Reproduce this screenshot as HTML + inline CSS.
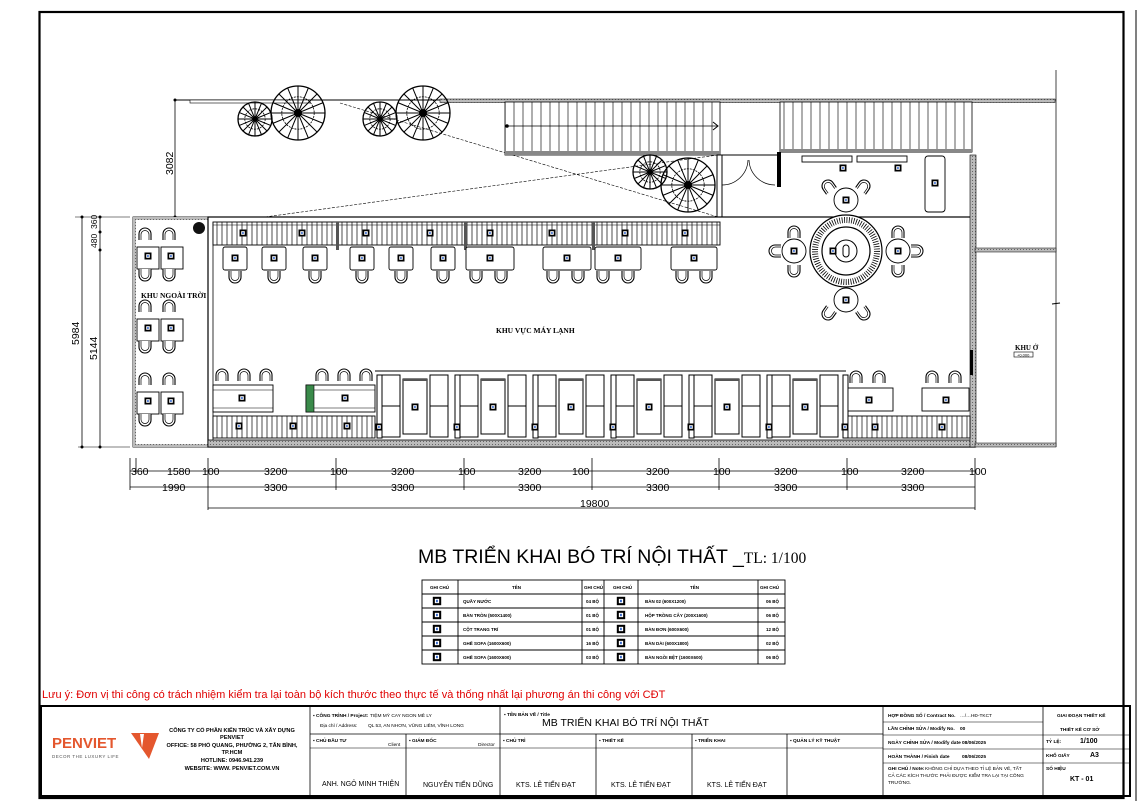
<!DOCTYPE html>
<html><head><meta charset="utf-8">
<style>
html,body{margin:0;padding:0;background:#fff;}
svg{display:block;font-family:"Liberation Sans","Noto Sans CJK SC",sans-serif;}
.s{font-family:"Liberation Serif","Noto Serif CJK SC",serif;}
.t *{vector-effect:non-scaling-stroke;}
</style></head><body>
<svg width="1140" height="801" viewBox="0 0 1140 801" xmlns="http://www.w3.org/2000/svg">
<defs>
 <pattern id="rail" width="5" height="10" patternUnits="userSpaceOnUse"><rect width="5" height="10" fill="#fff"/><line x1="2" y1="0" x2="2" y2="10" stroke="#222" stroke-width="0.8"/></pattern>
 <pattern id="stair" width="9" height="10" patternUnits="userSpaceOnUse"><rect width="9" height="10" fill="#fff"/><line x1="1" y1="0" x2="1" y2="10" stroke="#333" stroke-width="0.8"/></pattern>
 <pattern id="hat" width="3" height="3" patternUnits="userSpaceOnUse"><rect width="3" height="3" fill="#bbb"/><rect width="1" height="1" fill="#666"/></pattern>
 <g id="cu"><path d="M0,12 V6 A6,6 0 0 1 12,6 V12" fill="#fff" stroke="#000" stroke-width="1.1"/><path d="M2,12 V6.5 A4,4 0 0 1 10,6.5 V12" fill="none" stroke="#000" stroke-width="0.7"/></g>
 <g id="cd"><use href="#cu" transform="rotate(180 6 6)"/></g>
 <g id="tg"><rect x="-3.5" y="-3.5" width="7" height="7" fill="#000"/><rect x="-1.8" y="-1.8" width="3.6" height="3.6" fill="#fff"/><rect x="-0.8" y="-1" width="1.5" height="2" fill="#36c"/></g>
 <g id="tree" class="t"><circle r="1" fill="none" stroke="#000" stroke-width="1.3"/>
  <path d="M0,0 L0,-1 M0,0 L0.7,-0.7 M0,0 L1,0 M0,0 L0.7,0.7 M0,0 L0,1 M0,0 L-0.7,0.7 M0,0 L-1,0 M0,0 L-0.7,-0.7 M0,0 L0.38,-0.92 M0,0 L0.92,-0.38 M0,0 L0.92,0.38 M0,0 L0.38,0.92 M0,0 L-0.38,0.92 M0,0 L-0.92,0.38 M0,0 L-0.92,-0.38 M0,0 L-0.38,-0.92" stroke="#000" stroke-width="1" fill="none"/>
  <circle r="0.6" fill="none" stroke="#000" stroke-width="0.8" stroke-dasharray="2 1"/>
  <circle r="0.15" fill="#000"/></g>
 <g id="booth"><rect x="7" y="0" width="18" height="62" fill="#fff" stroke="#000" stroke-width="1"/><line x1="7" y1="31" x2="25" y2="31" stroke="#000"/>
  <rect x="28" y="4" width="24" height="55" fill="#fff" stroke="#000" stroke-width="1"/><rect x="28" y="4" width="24" height="2" fill="#555"/>
  <rect x="55" y="0" width="18" height="62" fill="#fff" stroke="#000" stroke-width="1"/><line x1="55" y1="31" x2="73" y2="31" stroke="#000"/>
  <use href="#tg" x="40" y="32"/></g>
</defs>

<rect width="1140" height="801" fill="#fff"/>
<path d="M1136,10 V801" stroke="#000" stroke-width="1"/>
<rect x="39.5" y="12" width="1084" height="786" fill="none" stroke="#000" stroke-width="2.2"/>

<line x1="175" y1="100" x2="1056" y2="100" stroke="#000" stroke-width="1"/>
<rect x="190" y="100" width="120" height="3" fill="#fff" stroke="#000" stroke-width="0.6"/>
<rect x="440" y="99" width="615" height="3.5" fill="url(#hat)" stroke="#000" stroke-width="0.5"/>
<line x1="1056" y1="70" x2="1056" y2="447" stroke="#444" stroke-width="1"/>
<path d="M1052,304 l8,-1" stroke="#000"/>
<path d="M340,103 L718,217 M265,217 L718,155" stroke="#000" stroke-width="0.6" stroke-dasharray="3 1.5" fill="none"/>
<rect x="505" y="102" width="215" height="53" fill="url(#stair)" stroke="#000" stroke-width="0.8"/>
<line x1="505" y1="126" x2="718" y2="126" stroke="#000" stroke-width="0.8"/>
<circle cx="507" cy="126" r="1.8"/><path d="M713,122 l5,4 -5,4" fill="none" stroke="#000"/>
<rect x="505" y="151" width="215" height="4" fill="#888"/>
<rect x="780" y="102" width="192" height="50" fill="url(#stair)" stroke="#000" stroke-width="0.8"/>
<rect x="780" y="149" width="192" height="4" fill="#888"/>
<rect x="717" y="155" width="5" height="66" fill="#fff" stroke="#000"/>
<path d="M722,185 A26,26 0 0 0 748,160 M775,185 A26,26 0 0 1 749,160" fill="none" stroke="#000" stroke-width="0.7"/>
<line x1="722" y1="155" x2="780" y2="155" stroke="#000"/>
<rect x="777" y="152" width="4" height="35" fill="#000"/>

<use href="#tree" transform="translate(255,119) scale(17)"/>
<use href="#tree" transform="translate(298,113) scale(27)"/>
<use href="#tree" transform="translate(380,119) scale(17)"/>
<use href="#tree" transform="translate(423,113) scale(27)"/>
<use href="#tree" transform="translate(650,172) scale(17)"/>
<use href="#tree" transform="translate(688,185) scale(27)"/>

<line x1="175" y1="100" x2="175" y2="217" stroke="#000" stroke-width="0.8"/>
<circle cx="175" cy="100" r="1.5"/><circle cx="175" cy="217" r="1.5"/>
<text font-size="10.5" transform="translate(173,175) rotate(-90)">3082</text>
<line x1="82" y1="217" x2="82" y2="447" stroke="#000" stroke-width="0.8"/>
<line x1="100" y1="217" x2="100" y2="447" stroke="#000" stroke-width="0.8"/>
<line x1="75" y1="217" x2="130" y2="217" stroke="#000" stroke-width="0.6"/>
<line x1="78" y1="447" x2="130" y2="447" stroke="#000" stroke-width="0.6"/>
<circle cx="82" cy="217" r="1.5"/><circle cx="100" cy="217" r="1.5"/><circle cx="100" cy="232" r="1.5"/><circle cx="100" cy="250" r="1.5"/><circle cx="82" cy="447" r="1.5"/><circle cx="100" cy="447" r="1.5"/>
<text font-size="10.5" transform="translate(79,345) rotate(-90)">5984</text>
<text font-size="10.5" transform="translate(97,360) rotate(-90)">5144</text>
<text font-size="8.5" transform="translate(97,248) rotate(-90)">480</text>
<text font-size="8.5" transform="translate(97,229) rotate(-90)">360</text>

<rect x="133" y="217" width="76" height="230" fill="#fff" stroke="#000" stroke-width="0.8"/>
<rect x="133" y="217" width="76" height="3" fill="url(#hat)"/>
<rect x="133" y="217" width="3" height="230" fill="url(#hat)"/>
<rect x="133" y="444" width="76" height="3" fill="url(#hat)"/>
<circle cx="199" cy="228" r="6" fill="#111"/>
<text x="141" y="298" font-size="7.5" font-weight="bold" class="s">KHU NGOÀI TRỜI</text>
<g id="otp">
 <use href="#cu" x="139" y="228"/><use href="#cu" x="163" y="228"/>
 <rect x="137" y="247" width="22" height="22" fill="#fff" stroke="#000" stroke-width="0.9"/>
 <rect x="161" y="247" width="22" height="22" fill="#fff" stroke="#000" stroke-width="0.9"/>
 <use href="#tg" x="148" y="256"/><use href="#tg" x="171" y="256"/>
 <use href="#cd" x="139" y="269"/><use href="#cd" x="163" y="269"/>
</g>
<use href="#otp" y="72"/><use href="#otp" y="145"/>

<rect x="208" y="217" width="767" height="230" fill="#fff" stroke="#000" stroke-width="1.2"/>
<line x1="213" y1="222" x2="213" y2="440" stroke="#000" stroke-width="0.8"/>
<rect x="208" y="440" width="767" height="7" fill="url(#hat)" stroke="#000" stroke-width="0.8"/>
<rect x="970" y="155" width="6" height="292" fill="url(#hat)" stroke="#000" stroke-width="0.6"/>
<rect x="975" y="248" width="81" height="4" fill="url(#hat)" stroke="#000" stroke-width="0.5"/>
<rect x="975" y="443" width="81" height="4" fill="url(#hat)" stroke="#000" stroke-width="0.5"/>
<text x="1015" y="350" font-size="7" font-weight="bold" class="s">KHU Ở</text>
<rect x="1014" y="352" width="19" height="5" fill="#fff" stroke="#000" stroke-width="0.6"/>
<text x="1017" y="356.5" font-size="4">+0.000</text>

<rect x="213" y="222" width="507" height="23" fill="url(#rail)" stroke="#000" stroke-width="0.9"/>
<line x1="213" y1="225" x2="720" y2="225" stroke="#000" stroke-width="0.6"/>
<g fill="#555"><rect x="336" y="222" width="3" height="28"/><rect x="464" y="222" width="3" height="28"/><rect x="592" y="222" width="3" height="28"/></g>
<use href="#tg" x="243" y="233"/><use href="#tg" x="302" y="233"/><use href="#tg" x="366" y="233"/><use href="#tg" x="430" y="233"/><use href="#tg" x="490" y="233"/><use href="#tg" x="552" y="233"/><use href="#tg" x="625" y="233"/><use href="#tg" x="685" y="233"/>
<g fill="#fff" stroke="#000" stroke-width="0.9">
 <rect x="223" y="247" width="24" height="23" rx="2"/><rect x="262" y="247" width="24" height="23" rx="2"/><rect x="303" y="247" width="24" height="23" rx="2"/>
 <rect x="350" y="247" width="24" height="23" rx="2"/><rect x="389" y="247" width="24" height="23" rx="2"/><rect x="431" y="247" width="24" height="23" rx="2"/>
 <rect x="466" y="247" width="48" height="23" rx="2"/><rect x="543" y="247" width="48" height="23" rx="2"/><rect x="595" y="247" width="46" height="23" rx="2"/><rect x="671" y="247" width="46" height="23" rx="2"/>
</g>
<use href="#tg" x="235" y="258"/><use href="#tg" x="274" y="258"/><use href="#tg" x="315" y="258"/><use href="#tg" x="362" y="258"/><use href="#tg" x="401" y="258"/><use href="#tg" x="443" y="258"/><use href="#tg" x="490" y="258"/><use href="#tg" x="567" y="258"/><use href="#tg" x="618" y="258"/><use href="#tg" x="694" y="258"/>
<use href="#cd" x="229" y="271"/><use href="#cd" x="268" y="271"/><use href="#cd" x="309" y="271"/><use href="#cd" x="356" y="271"/><use href="#cd" x="395" y="271"/><use href="#cd" x="437" y="271"/>
<use href="#cd" x="470" y="271"/><use href="#cd" x="495" y="271"/><use href="#cd" x="547" y="271"/><use href="#cd" x="572" y="271"/><use href="#cd" x="597" y="271"/><use href="#cd" x="622" y="271"/><use href="#cd" x="676" y="271"/><use href="#cd" x="700" y="271"/>

<text x="496" y="333" font-size="7.5" font-weight="bold" class="s">KHU VỰC MÁY LẠNH</text>

<use href="#cu" x="216" y="369"/><use href="#cu" x="238" y="369"/><use href="#cu" x="260" y="369"/>
<use href="#cu" x="316" y="369"/><use href="#cu" x="338" y="369"/><use href="#cu" x="360" y="369"/>
<rect x="213" y="385" width="60" height="27" fill="#fff" stroke="#000" stroke-width="0.9"/><line x1="213" y1="390" x2="273" y2="390" stroke="#000" stroke-width="0.6"/><line x1="213" y1="408" x2="273" y2="408" stroke="#000" stroke-width="0.6"/>
<rect x="306" y="385" width="69" height="27" fill="#fff" stroke="#000" stroke-width="0.9"/><line x1="306" y1="390" x2="375" y2="390" stroke="#000" stroke-width="0.6"/><line x1="306" y1="408" x2="375" y2="408" stroke="#000" stroke-width="0.6"/>
<rect x="306" y="385" width="8" height="27" fill="#3a8a4a" stroke="#000" stroke-width="0.6"/>
<use href="#tg" x="242" y="398"/><use href="#tg" x="345" y="398"/>
<rect x="213" y="416" width="162" height="22" fill="url(#rail)" stroke="#000" stroke-width="0.9"/>
<use href="#tg" x="239" y="426"/><use href="#tg" x="293" y="426"/><use href="#tg" x="347" y="426"/>

<line x1="375" y1="371" x2="846" y2="371" stroke="#000" stroke-width="1"/>
<g transform="translate(375,375)">
 <use href="#booth" x="0"/><use href="#booth" x="78"/><use href="#booth" x="156"/><use href="#booth" x="234"/><use href="#booth" x="312"/><use href="#booth" x="390"/>
</g>
<g fill="#fff" stroke="#000" stroke-width="1">
 <rect x="377" y="375" width="5" height="63"/><rect x="455" y="375" width="5" height="63"/><rect x="533" y="375" width="5" height="63"/><rect x="611" y="375" width="5" height="63"/><rect x="689" y="375" width="5" height="63"/><rect x="767" y="375" width="5" height="63"/><rect x="843" y="375" width="5" height="63"/>
</g>
<use href="#tg" x="379" y="427"/><use href="#tg" x="457" y="427"/><use href="#tg" x="535" y="427"/><use href="#tg" x="613" y="427"/><use href="#tg" x="691" y="427"/><use href="#tg" x="769" y="427"/><use href="#tg" x="845" y="427"/>

<use href="#cu" x="850" y="371"/><use href="#cu" x="873" y="371"/><use href="#cu" x="926" y="371"/><use href="#cu" x="949" y="371"/>
<rect x="848" y="388" width="45" height="23" fill="#fff" stroke="#000" stroke-width="0.9"/>
<rect x="922" y="388" width="47" height="23" fill="#fff" stroke="#000" stroke-width="0.9"/>
<use href="#tg" x="869" y="400"/><use href="#tg" x="946" y="400"/>
<rect x="848" y="416" width="122" height="22" fill="url(#rail)" stroke="#000" stroke-width="0.9"/>
<use href="#tg" x="875" y="427"/><use href="#tg" x="942" y="427"/>

<g fill="#fff" stroke="#000" stroke-width="0.9">
 <rect x="802" y="156" width="50" height="6"/><rect x="857" y="156" width="50" height="6"/>
 <rect x="925" y="156" width="20" height="56" rx="3"/>
</g>
<use href="#tg" x="843" y="168"/><use href="#tg" x="898" y="168"/><use href="#tg" x="935" y="183"/>
<circle cx="846" cy="251" r="36" fill="#fff" stroke="#000" stroke-width="1.2"/>
<circle cx="846" cy="251" r="31" fill="none" stroke="#000" stroke-width="6" stroke-dasharray="0.8 1.6"/>
<circle cx="846" cy="251" r="24" fill="#fff" stroke="#000" stroke-width="1.2"/>
<circle cx="846" cy="251" r="11" fill="#fff" stroke="#000" stroke-width="1"/>
<rect x="843" y="245" width="6" height="12" rx="3" fill="#fff" stroke="#000"/>
<use href="#tg" x="833" y="251"/>
<g fill="#fff" stroke="#000" stroke-width="0.9">
 <circle cx="846" cy="200" r="12"/><circle cx="794" cy="251" r="12"/><circle cx="898" cy="251" r="12"/><circle cx="846" cy="300" r="12"/>
</g>
<use href="#tg" x="846" y="200"/><use href="#tg" x="794" y="251"/><use href="#tg" x="898" y="251"/><use href="#tg" x="846" y="300"/>
<use href="#cu" x="822" y="180" transform="rotate(-35 828 186)"/><use href="#cu" x="858" y="180" transform="rotate(35 864 186)"/>
<use href="#cd" x="822" y="308" transform="rotate(35 828 314)"/><use href="#cd" x="858" y="308" transform="rotate(-35 864 314)"/>
<use href="#cu" x="788" y="226"/><use href="#cd" x="788" y="265"/><use href="#cu" x="892" y="226"/><use href="#cd" x="892" y="265"/>
<use href="#cu" x="769" y="245" transform="rotate(-90 775 251)"/><use href="#cu" x="911" y="245" transform="rotate(90 917 251)"/>
<rect x="970" y="350" width="3" height="25" fill="#000"/>

<g stroke="#000" stroke-width="0.8">
 <line x1="130" y1="471" x2="975" y2="471"/>
 <line x1="130" y1="487" x2="975" y2="487"/>
 <line x1="208" y1="508" x2="975" y2="508"/>
 <line x1="130" y1="458" x2="130" y2="490"/><line x1="136" y1="458" x2="136" y2="474"/>
 <line x1="208" y1="458" x2="208" y2="510"/><line x1="336" y1="458" x2="336" y2="490"/><line x1="464" y1="458" x2="464" y2="490"/>
 <line x1="592" y1="458" x2="592" y2="490"/><line x1="719" y1="458" x2="719" y2="490"/><line x1="847" y1="458" x2="847" y2="490"/><line x1="975" y1="458" x2="975" y2="510"/>
</g>
<g font-size="10.5">
 <text x="131" y="475">360</text><text x="167" y="475">1580</text><text x="202" y="475">100</text>
 <text x="264" y="475">3200</text><text x="330" y="475">100</text><text x="391" y="475">3200</text><text x="458" y="475">100</text>
 <text x="518" y="475">3200</text><text x="572" y="475">100</text><text x="646" y="475">3200</text><text x="713" y="475">100</text>
 <text x="774" y="475">3200</text><text x="841" y="475">100</text><text x="901" y="475">3200</text><text x="969" y="475">100</text>
 <text x="162" y="491">1990</text><text x="264" y="491">3300</text><text x="391" y="491">3300</text><text x="518" y="491">3300</text>
 <text x="646" y="491">3300</text><text x="774" y="491">3300</text><text x="901" y="491">3300</text>
 <text x="580" y="507">19800</text>
</g>

<text x="418" y="563" font-size="19.5">MB TRIỂN KHAI BÓ TRÍ NỘI THẤT _<tspan font-size="15.5" font-family="Liberation Serif, serif">TL: 1/100</tspan></text>

<g stroke="#000" stroke-width="0.9" fill="none">
 <rect x="422" y="580" width="363" height="84"/>
 <line x1="422" y1="594" x2="785" y2="594"/><line x1="422" y1="608" x2="785" y2="608"/><line x1="422" y1="622" x2="785" y2="622"/><line x1="422" y1="636" x2="785" y2="636"/><line x1="422" y1="650" x2="785" y2="650"/>
 <line x1="458" y1="580" x2="458" y2="664"/><line x1="582" y1="580" x2="582" y2="664"/><line x1="604" y1="580" x2="604" y2="664"/><line x1="638" y1="580" x2="638" y2="664"/><line x1="758" y1="580" x2="758" y2="664"/>
</g>
<g font-size="4.5" font-weight="bold">
 <text x="430" y="589">GHI CHÚ</text><text x="512" y="589">TÊN</text><text x="584" y="589">GHI CHÚ</text><text x="613" y="589">GHI CHÚ</text><text x="690" y="589">TÊN</text><text x="760" y="589">GHI CHÚ</text>
 <text x="463" y="603">QUẦY NƯỚC</text><text x="586" y="603">04 BỘ</text><text x="645" y="603">BÀN 02 (600X1200)</text><text x="766" y="603">06 BỘ</text>
 <text x="463" y="617">BÀN TRÒN (500X1400)</text><text x="586" y="617">01 BỘ</text><text x="645" y="617">HỘP TRỒNG CÂY (200X1600)</text><text x="766" y="617">06 BỘ</text>
 <text x="463" y="631">CỘT TRANG TRÍ</text><text x="586" y="631">01 BỘ</text><text x="645" y="631">BÀN ĐƠN (600X600)</text><text x="766" y="631">12 BỘ</text>
 <text x="463" y="645">GHẾ SOFA (1600X600)</text><text x="586" y="645">16 BỘ</text><text x="645" y="645">BÀN DÀI (600X1800)</text><text x="766" y="645">02 BỘ</text>
 <text x="463" y="659">GHẾ SOFA (1600X600)</text><text x="586" y="659">03 BỘ</text><text x="645" y="659">BÀN NGỒI BỆT (1600X600)</text><text x="766" y="659">06 BỘ</text>
</g>
<g>
 <use href="#tg" transform="translate(437,601) scale(1.2)"/><use href="#tg" transform="translate(437,615) scale(1.2)"/><use href="#tg" transform="translate(437,629) scale(1.2)"/><use href="#tg" transform="translate(437,643) scale(1.2)"/><use href="#tg" transform="translate(437,657) scale(1.2)"/>
 <use href="#tg" transform="translate(621,601) scale(1.2)"/><use href="#tg" transform="translate(621,615) scale(1.2)"/><use href="#tg" transform="translate(621,629) scale(1.2)"/><use href="#tg" transform="translate(621,643) scale(1.2)"/><use href="#tg" transform="translate(621,657) scale(1.2)"/>
</g>

<text x="42" y="698" font-size="11" fill="#e00000">Lưu ý: Đơn vị thi công có trách nhiệm kiểm tra lại toàn bộ kích thước theo thực tế và thống nhất lại phương án thi công với CĐT</text>

<g stroke="#000" fill="none">
 <rect x="41" y="706" width="1089" height="90" stroke-width="2"/>
 <line x1="310" y1="706" x2="310" y2="796" stroke-width="0.8"/>
 <line x1="500" y1="706" x2="500" y2="796" stroke-width="0.8"/>
 <line x1="310" y1="734" x2="883" y2="734" stroke-width="0.8"/>
 <line x1="310" y1="748" x2="883" y2="748" stroke-width="0.5"/>
 <line x1="406" y1="734" x2="406" y2="796" stroke-width="0.8"/>
 <line x1="596" y1="734" x2="596" y2="796" stroke-width="0.8"/>
 <line x1="692" y1="734" x2="692" y2="796" stroke-width="0.8"/>
 <line x1="787" y1="734" x2="787" y2="796" stroke-width="0.8"/>
 <line x1="883" y1="706" x2="883" y2="796" stroke-width="0.8"/>
 <line x1="1043" y1="706" x2="1043" y2="796" stroke-width="0.8"/>
 <line x1="883" y1="722" x2="1043" y2="722" stroke-width="0.6"/>
 <line x1="883" y1="735" x2="1130" y2="735" stroke-width="0.6"/>
 <line x1="883" y1="749" x2="1043" y2="749" stroke-width="0.6"/>
 <line x1="883" y1="763" x2="1130" y2="763" stroke-width="0.6"/>
 <line x1="1043" y1="749" x2="1130" y2="749" stroke-width="0.6"/>
</g>
<text x="52" y="748" font-size="15" font-weight="bold" fill="#e4572e">PENVIET</text>
<path d="M131,733 h28 l-10,26 z" fill="#e4572e"/><path d="M140,734 h4 l-2,14 z" fill="#fff"/>
<text x="52" y="758" font-size="4.5" fill="#555" letter-spacing="0.5">DECOR THE LUXURY LIFE</text>
<g font-size="5.6" font-weight="bold" text-anchor="middle">
 <text x="232" y="732">CÔNG TY CỔ PHẦN KIẾN TRÚC VÀ XÂY DỰNG</text>
 <text x="232" y="739">PENVIET</text>
 <text x="232" y="747">OFFICE:  58 PHỔ QUANG, PHƯỜNG 2, TÂN BÌNH,</text>
 <text x="232" y="754">TP.HCM</text>
 <text x="232" y="762">HOTLINE: 0946.941.239</text>
 <text x="232" y="770">WEBSITE: WWW. PENVIET.COM.VN</text>
</g>
<g font-size="4.8" font-weight="bold">
 <text x="313" y="717">▪ CÔNG TRÌNH / Project:</text><text x="370" y="717" font-weight="normal">TIỆM MỲ CAY NGON MÊ LY</text>
 <text x="320" y="727" font-weight="normal">Địa chỉ / Address:</text><text x="368" y="727" font-weight="normal">QL 53, AN NHƠN, VŨNG LIÊM, VĨNH LONG</text>
 <text x="504" y="716">▪ TÊN BẢN VẼ / Title</text>
 <text x="313" y="742">▪ CHỦ ĐẦU TƯ</text><text x="388" y="746" font-weight="normal">Client</text>
 <text x="409" y="742">▪ GIÁM ĐỐC</text><text x="478" y="746" font-weight="normal">Director</text>
 <text x="503" y="742">▪ CHỦ TRÌ</text><text x="599" y="742">▪ THIẾT KẾ</text><text x="695" y="742">▪ TRIỂN KHAI</text><text x="790" y="742">▪ QUẢN LÝ KỸ THUẬT</text>
 <text x="888" y="717">HỢP ĐỒNG SỐ / Contract No.</text><text x="960" y="717" font-weight="normal">…/…HĐ-TKCT</text>
 <text x="888" y="730">LẦN CHỈNH SỬA / Modify No.</text><text x="960" y="730">00</text>
 <text x="888" y="744">NGÀY CHỈNH SỬA / Modify date</text><text x="962" y="744">08/06/2025</text>
 <text x="888" y="758">HOÀN THÀNH / Finish date</text><text x="962" y="758">08/06/2025</text>
 <text x="888" y="770">GHI CHÚ / Note:</text><text x="925" y="770" font-weight="normal">KHÔNG CHỈ DỰA THEO TỈ LỆ BẢN VẼ, TẤT</text>
 <text x="888" y="777" font-weight="normal">CẢ CÁC KÍCH THƯỚC PHẢI ĐƯỢC KIỂM TRA LẠI TẠI CÔNG</text>
 <text x="888" y="784" font-weight="normal">TRƯỜNG.</text>
 <text x="1057" y="717">GIAI ĐOẠN THIẾT KẾ</text><text x="1060" y="731">THIẾT KẾ CƠ SỞ</text>
 <text x="1046" y="743">TỶ LỆ:</text><text x="1046" y="757">KHỔ GIẤY</text><text x="1046" y="770">SỐ HIỆU</text>
</g>
<text x="1080" y="743" font-size="7" font-weight="bold">1/100</text>
<text x="1090" y="757" font-size="7" font-weight="bold">A3</text>
<text x="1070" y="781" font-size="7" font-weight="bold">KT - 01</text>
<text x="542" y="726" font-size="10.5">MB TRIỂN KHAI BÓ TRÍ NỘI THẤT</text>
<g font-size="7">
 <text x="322" y="786">ANH. NGÔ MINH THIỆN</text><text x="423" y="787">NGUYỄN TIẾN DŨNG</text>
 <text x="516" y="787">KTS.  LÊ TIẾN ĐẠT</text><text x="611" y="787">KTS.  LÊ TIẾN ĐẠT</text><text x="707" y="787">KTS.  LÊ TIẾN ĐẠT</text>
</g>
</svg>
</body></html>
